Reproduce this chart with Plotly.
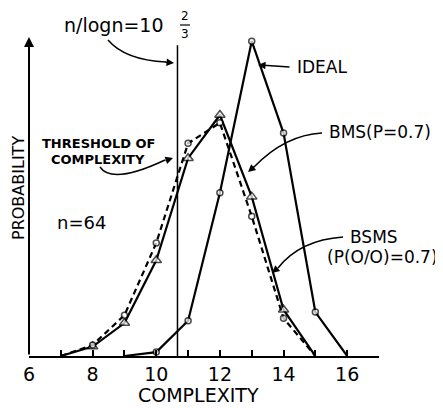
import plotly.graph_objects as go

# ---- data (probability vs complexity, n = 64) ----
ideal_x = [9, 10, 11, 12, 13, 14, 15, 16]
ideal_y = [0.0, 0.005, 0.045, 0.208, 0.401, 0.284, 0.056, 0.0]

bms_x = [7, 8, 9, 10, 11, 12, 13, 14, 15]
bms_y = [0.0, 0.012, 0.042, 0.122, 0.252, 0.307, 0.203, 0.059, 0.0]

bsms_x = [7, 8, 9, 10, 11, 12, 13, 14, 15]
bsms_y = [0.0, 0.014, 0.052, 0.144, 0.271, 0.297, 0.178, 0.048, 0.0]

threshold = 10 + 2 / 3
threshold_top = 0.396

xtick_vals = [6, 8, 10, 12, 14, 16]
xtick_text = ["6", "8", "10", "12", "14", "16"]

FONT = "DejaVu Sans"
OFF = 8                      # page body margin
W, H = 443 - OFF, 408 - OFF
L, T = 29 - OFF, 26 - OFF
R = W - (379 - OFF)
B = H - (356 - OFF)
PW, PH = W - L - R, H - T - B

# screen pixel -> paper helpers for annotation placement
def px2p(px):
    return (px - OFF - L) / PW

def py2p(py):
    return (H - B - (py - OFF)) / PH

fig = go.Figure()

def msizes(xs, s):
    return [0 if i in (0, len(xs) - 1) else s for i in range(len(xs))]

fig.add_trace(go.Scatter(
    x=ideal_x, y=ideal_y, mode="lines+markers", name="IDEAL",
    line=dict(color="black", width=2.2),
    marker=dict(symbol="circle", size=msizes(ideal_x, 6), color="white",
                line=dict(color="black", width=1.5)),
    cliponaxis=False))

fig.add_trace(go.Scatter(
    x=bms_x, y=bms_y, mode="lines+markers", name="BMS",
    line=dict(color="black", width=2.2),
    marker=dict(symbol="triangle-up", size=msizes(bms_x, 9), color="white",
                line=dict(color="black", width=1.5)),
    cliponaxis=False))

fig.add_trace(go.Scatter(
    x=bsms_x, y=bsms_y, mode="lines+markers", name="BSMS",
    line=dict(color="black", width=2.2, dash="6px,4px"),
    marker=dict(symbol="circle", size=msizes(bsms_x, 6), color="white",
                line=dict(color="black", width=1.5)),
    cliponaxis=False))

# threshold line
fig.add_trace(go.Scatter(
    x=[threshold, threshold], y=[0, threshold_top], mode="lines",
    line=dict(color="black", width=1.5), cliponaxis=False))

shapes = []
def curve(p0, p1, p2):
    path = "M {},{} Q {},{} {},{}".format(px2p(p0[0]), py2p(p0[1]),
                                          px2p(p1[0]), py2p(p1[1]),
                                          px2p(p2[0]), py2p(p2[1]))
    shapes.append(dict(type="path", path=path, xref="paper", yref="paper",
                       line=dict(color="black", width=1.5)))

annotations = []
def head(end, frm, width=1.5):
    annotations.append(dict(x=px2p(end[0]), y=py2p(end[1]), xref="paper",
                            yref="paper", ax=frm[0] - end[0], ay=frm[1] - end[1],
                            showarrow=True, arrowhead=2, arrowsize=1,
                            arrowwidth=width, arrowcolor="black", text=""))

def label(text, px, py, size, anchor="center", weight="normal"):
    annotations.append(dict(x=px2p(px), y=py2p(py), xref="paper", yref="paper",
                            text=text, showarrow=False, xanchor=anchor,
                            yanchor="middle",
                            font=dict(family=FONT, size=size, color="black",
                                      weight=weight)))

# y axis arrow
head((29, 37), (29, 356), width=2)

# n/logn label
label("n/logn=10", 62, 25, 19, anchor="left")
label("2", 185, 16, 12)
label("3", 185, 34, 12)
shapes.append(dict(type="line", xref="paper", yref="paper", x0=px2p(180),
                   x1=px2p(190), y0=py2p(25), y1=py2p(25),
                   line=dict(color="black", width=1.2)))
curve((108, 40), (125, 60), (166, 62))
head((174, 63), (164, 62))

# IDEAL
label("IDEAL", 295, 67, 17, anchor="left")
head((258, 65), (291, 67))

# BMS
label("BMS(P=0.7)", 327, 132, 17, anchor="left")
curve((322, 133), (285, 135), (254, 167))
head((248, 172), (256, 165))

# Threshold of complexity
label("THRESHOLD OF", 98, 143, 13, weight="bold")
label("COMPLEXITY", 98, 159, 13, weight="bold")
curve((100, 167), (112, 185), (165, 160))
head((173, 158), (164, 161))

# n = 64
label("n=64", 55, 222, 18, anchor="left")

# BSMS
label("BSMS", 348, 237, 17, anchor="left")
label("(P(O/O)=0.7)", 325, 257, 17, anchor="left")
curve((343, 237), (300, 240), (278, 268))
head((272, 273), (279, 267))

# axis titles
label("COMPLEXITY", 198, 395, 19)
annotations.append(dict(xref="paper", yref="paper", x=px2p(18), y=py2p(188),
                        xanchor="center", yanchor="middle",
                        text="PROBABILITY", textangle=-90, showarrow=False,
                        font=dict(family=FONT, size=16, color="black")))

fig.update_layout(
    width=W, height=H,
    margin=dict(l=L, r=R, t=T, b=B),
    paper_bgcolor="white", plot_bgcolor="white",
    showlegend=False,
    shapes=shapes, annotations=annotations,
    font=dict(family=FONT, color="black"),
    xaxis=dict(range=[6, 17], showgrid=False, zeroline=False, automargin=False,
               showline=True, linecolor="black", linewidth=2,
               tickvals=xtick_vals, ticktext=xtick_text,
               ticks="inside", ticklen=6, tickwidth=1.5, tickcolor="black",
               minor=dict(ticks="inside", dtick=1, ticklen=6, tickwidth=1.5,
                          tickcolor="black", showgrid=False),
               tickfont=dict(family=FONT, size=19, color="black")),
    yaxis=dict(range=[0, PH / 785.0], showgrid=False, zeroline=False,
               automargin=False,
               showline=False, showticklabels=False, ticks=""),
)

fig.write_html("out.html")
